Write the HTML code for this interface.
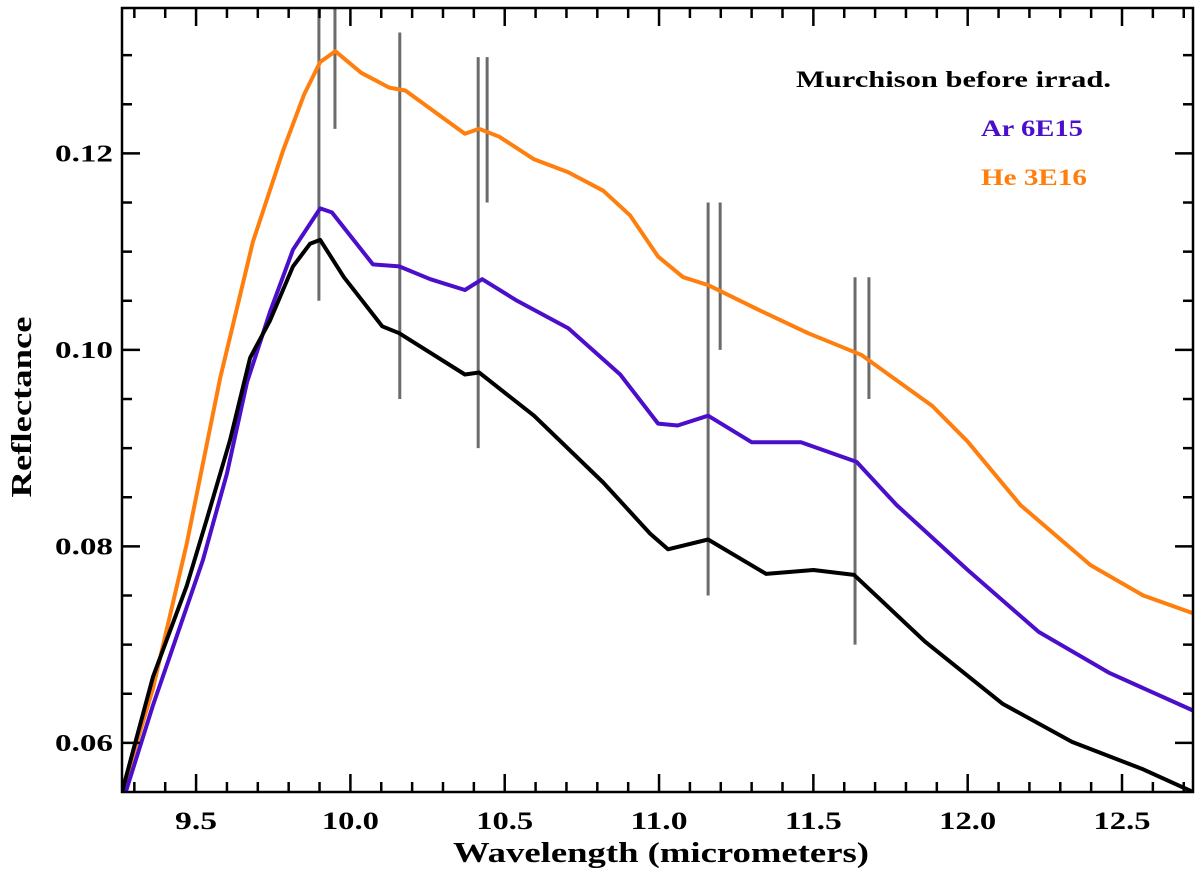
<!DOCTYPE html>
<html><head><meta charset="utf-8"><style>
html,body{margin:0;padding:0;background:#fff;}
svg{display:block;font-family:"Liberation Serif",serif;font-weight:bold;}
</style></head><body>
<svg id="chart" width="1200" height="875" viewBox="0 0 1200 875" xmlns="http://www.w3.org/2000/svg">
<text x="796" y="87" font-size="23" textLength="315" lengthAdjust="spacingAndGlyphs" fill="#000">Murchison before irrad.</text>
<text x="981" y="136" font-size="23" textLength="102" lengthAdjust="spacingAndGlyphs" fill="#4b0ecb">Ar 6E15</text>
<text x="981" y="185" font-size="23" textLength="106" lengthAdjust="spacingAndGlyphs" fill="#ff7f0e">He 3E16</text>
<text x="453" y="862" font-size="28" textLength="416" lengthAdjust="spacingAndGlyphs">Wavelength (micrometers)</text>
<text transform="translate(31,407) rotate(-90)" text-anchor="middle" font-size="28" textLength="181" lengthAdjust="spacingAndGlyphs">Reflectance</text>
</svg>
<script>
const xTicks=[9.5,10.0,10.5,11.0,11.5,12.0,12.5];
const yTicks=[0.06,0.08,0.10,0.12];
const blackX=[9.26,9.36,9.47,9.535,9.61,9.675,9.74,9.814,9.869,9.902,9.979,10.103,10.158,10.371,10.417,10.595,10.819,10.971,11.029,11.159,11.347,11.5,11.632,11.862,12.112,12.338,12.569,12.73];
const blackY=[0.0550,0.0667,0.0760,0.0828,0.0908,0.0992,0.1030,0.1085,0.1108,0.1112,0.1074,0.1024,0.1017,0.0975,0.0977,0.0933,0.0865,0.0813,0.0797,0.0807,0.0772,0.0776,0.0771,0.0703,0.0640,0.0601,0.0573,0.0550];
const arX=[9.27,9.36,9.522,9.6,9.665,9.74,9.814,9.902,9.94,10.073,10.158,10.259,10.371,10.427,10.540,10.706,10.874,10.997,11.06,11.159,11.30,11.46,11.64,11.77,12.0,12.23,12.46,12.73];
const arY=[0.0548,0.0638,0.0786,0.0874,0.0967,0.1039,0.1102,0.1144,0.1140,0.1087,0.1085,0.1072,0.1061,0.1072,0.1050,0.1022,0.0975,0.0925,0.0923,0.0933,0.0906,0.0906,0.0886,0.0842,0.0776,0.0713,0.0671,0.0633];
const heX=[9.26,9.36,9.47,9.578,9.684,9.782,9.85,9.902,9.951,10.035,10.126,10.178,10.371,10.417,10.482,10.595,10.705,10.819,10.906,10.997,11.078,11.159,11.314,11.483,11.655,11.885,11.999,12.171,12.398,12.569,12.73];
const heY=[0.0550,0.0655,0.0803,0.0971,0.1110,0.1203,0.1260,0.1293,0.1304,0.1282,0.1267,0.1264,0.1220,0.1225,0.1217,0.1194,0.1181,0.1162,0.1137,0.1095,0.1074,0.1066,0.1042,0.1017,0.0995,0.0943,0.0907,0.0842,0.0781,0.0750,0.0732];
const markX=[9.898,9.95,10.16,10.414,10.443,11.159,11.198,11.635,11.68];
const markLo=[0.105,0.1225,0.095,0.090,0.115,0.075,0.100,0.070,0.095];
const markHi=[0.1348,0.1348,0.1323,0.1298,0.1298,0.115,0.115,0.1074,0.1074];

const L=122,R=1193,T=8,B=792,X0=9.26,X1=12.73,Y0=0.0550,Y1=0.1348;
const sx=v=>L+(v-X0)/(X1-X0)*(R-L);
const sy=v=>B-(v-Y0)/(Y1-Y0)*(B-T);
const svg=document.getElementById('chart');
const NS='http://www.w3.org/2000/svg';
function add(tag,attrs){const e=document.createElementNS(NS,tag);for(const k in attrs)e.setAttribute(k,attrs[k]);svg.appendChild(e);return e;}

const clip=add('clipPath',{id:'pc'});
const cr=document.createElementNS(NS,'rect');cr.setAttribute('x',L);cr.setAttribute('y',T);cr.setAttribute('width',R-L);cr.setAttribute('height',B-T);clip.appendChild(cr);

for(let i=0;i<markX.length;i++){
  const l=add('line',{x1:sx(markX[i]),x2:sx(markX[i]),y1:sy(markLo[i]),y2:sy(markHi[i]),stroke:'#6b6b6b','stroke-width':3,'clip-path':'url(#pc)'});
  
  
}
function series(xs,ys,color,name){
  const d=xs.map((x,i)=>(i?'L':'M')+sx(x).toFixed(1)+','+sy(ys[i]).toFixed(1)).join('');
  const p=add('path',{d:d,fill:'none',stroke:color,'stroke-width':4,'stroke-linejoin':'round','clip-path':'url(#pc)'});
  
  
}
series(heX,heY,'#ff7f0e','he-3e16-line');
series(arX,arY,'#4b0ecb','ar-6e15-line');
series(blackX,blackY,'#000','murchison-line');

const fr=add('rect',{x:L,y:T,width:R-L,height:B-T,fill:'none',stroke:'#000','stroke-width':2.5});


for(let v=9.3;v<=12.71;v+=0.1){
  const vv=Math.round(v*10)/10;const major=Math.abs(vv*2-Math.round(vv*2))<1e-6;
  const len=major?18:10;const x=sx(vv);
  const t1=add('line',{x1:x,x2:x,y1:B,y2:B-len,stroke:'#000','stroke-width':2.5});
  
  
  add('line',{x1:x,x2:x,y1:T,y2:T+len,stroke:'#000','stroke-width':2.5});
}
xTicks.forEach(v=>{
  const s=v.toFixed(1);
  const w=s.length>3?57:42;
  const t=add('text',{x:sx(v)-w/2,y:829,'font-size':25,textLength:w,lengthAdjust:'spacingAndGlyphs'});
  t.textContent=s;
  
  
});
for(let v=0.06;v<=0.1341;v+=0.005){
  const vv=Math.round(v*1000)/1000;const major=Math.abs(vv*50-Math.round(vv*50))<1e-6;
  const len=major?18:10;const y=sy(vv);
  const t1=add('line',{x1:L,x2:L+len,y1:y,y2:y,stroke:'#000','stroke-width':2.5});
  
  
  add('line',{x1:R,x2:R-len,y1:y,y2:y,stroke:'#000','stroke-width':2.5});
}
yTicks.forEach(v=>{
  const t=add('text',{x:55,y:sy(v)+8,'font-size':24,textLength:58,lengthAdjust:'spacingAndGlyphs'});
  t.textContent=v.toFixed(2);
  
  
});
</script>
</body></html>
